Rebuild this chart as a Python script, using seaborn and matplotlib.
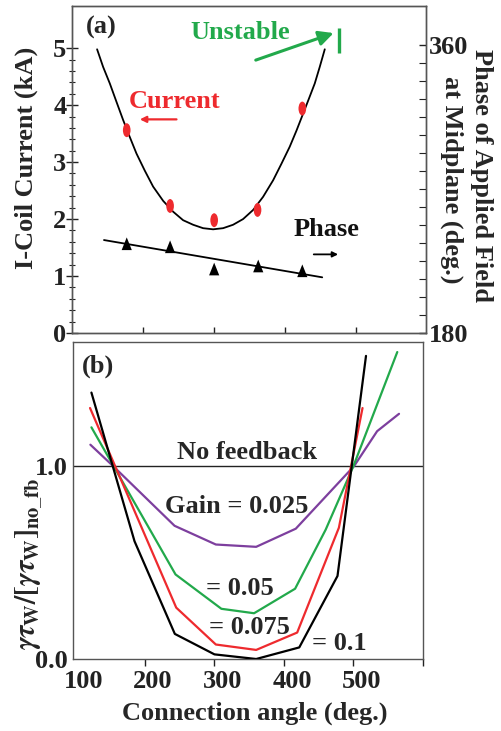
import numpy as np
import pandas as pd
import matplotlib
matplotlib.use("Agg")
import matplotlib.pyplot as plt
import matplotlib.transforms as mtransforms
from matplotlib.path import Path
from matplotlib.markers import MarkerStyle
from matplotlib.ticker import FixedLocator
import seaborn as sns

# ---------------- data: panel (a) ----------------
fit_angle = [135.3, 143.8, 153.2, 162.5, 171.9, 181.3, 190.7, 202.4, 214.1, 228.2,
             242.2, 256.3, 270.4, 284.4, 298.5, 312.6, 326.6, 340.7, 354.8, 368.8,
             382.9, 394.6, 406.3, 415.7, 425.1, 433.5, 441.5, 448.5, 455.6]
fit_current = [4.98, 4.67, 4.38, 4.06, 3.74, 3.44, 3.15, 2.85, 2.57, 2.32,
               2.13, 1.98, 1.90, 1.84, 1.82, 1.84, 1.90, 2.00, 2.16, 2.39,
               2.68, 2.97, 3.27, 3.55, 3.85, 4.12, 4.38, 4.67, 4.98]
meas_angle = [177, 238, 300, 361, 424]
meas_current = [3.56, 2.23, 1.98, 2.16, 3.94]
phase_angle = [177, 238, 300, 362, 424]
phase_deg = [235.8, 233.9, 220.0, 221.9, 218.9]
phase_fit_angle = [145, 452]
phase_fit_deg = [238.1, 214.8]

# ---------------- data: panel (b) ----------------
gain_levels = ["0.025", "0.05", "0.075", "0.1"]
angle_g025 = [121.5, 154, 242.6, 302, 360, 417, 501, 534, 565.5]
ratio_g025 = [1.11, 1.0, 0.69, 0.593, 0.581, 0.675, 1.0, 1.18, 1.27]
angle_g050 = [123, 244, 310, 357, 416, 460, 500, 563]
ratio_g050 = [1.20, 0.438, 0.26, 0.237, 0.364, 0.67, 1.0, 1.59]
angle_g075 = [121, 245, 302, 360, 419, 479, 513]
ratio_g075 = [1.30, 0.266, 0.075, 0.047, 0.137, 0.68, 1.30]
angle_g100 = [123, 185, 243, 300, 360, 422, 477, 518]
ratio_g100 = [1.38, 0.61, 0.13, 0.024, 0.0, 0.06, 0.43, 1.57]

xticks_b = [100, 200, 300, 400, 500, 600]
xticklabels_b = ["100", "200", "300", "400", "500", ""]

RED = "#ee2a2e"
GREEN = "#22a94b"
PURPLE = "#7d3f9e"
SPINE = "#555555"

sns.set_theme(style="ticks")
plt.rcParams["font.family"] = ["Liberation Serif", "DejaVu Serif"]
plt.rcParams["font.weight"] = "bold"
plt.rcParams["axes.labelweight"] = "bold"
plt.rcParams["mathtext.fontset"] = "stix"
plt.rcParams["axes.edgecolor"] = SPINE
plt.rcParams["axes.linewidth"] = 1.0
plt.rcParams["xtick.color"] = "#222222"
plt.rcParams["ytick.color"] = "#222222"

FS = 19

fig = plt.figure(figsize=(5.02, 7.31), dpi=100)
W, H = 502, 731
ax1 = fig.add_axes([72 / W, 1 - 333 / H, (426 - 72) / W, (333 - 6) / H])
ax2 = fig.add_axes([73 / W, 1 - 659 / H, (423 - 73) / W, (659 - 342) / H])

# ---------------- panel (a) ----------------
df_fit = pd.DataFrame({"angle": fit_angle, "current": fit_current})
sns.lineplot(data=df_fit, x="angle", y="current", color="black", lw=1.3,
             sort=False, estimator=None, ax=ax1)

circ = Path.unit_circle()
ellipse = MarkerStyle(Path(circ.vertices * np.array([0.55, 1.0]), circ.codes))
sns.scatterplot(x=meas_angle, y=meas_current, marker=ellipse, s=100,
                color=RED, edgecolor="none", ax=ax1, zorder=5)

ax1.set_xlim(100, 598)
ax1.set_ylim(0, 5.74)
ax1.yaxis.set_major_locator(FixedLocator([0, 1, 2, 3, 4, 5]))
ax1.yaxis.set_minor_locator(FixedLocator(np.arange(0, 5.01, 0.2)))
ax1.xaxis.set_major_locator(FixedLocator([200, 300, 400, 500]))
ax1.tick_params(axis="y", which="major", direction="inout", length=8, width=1,
                labelsize=FS, pad=0)
ax1.tick_params(axis="y", which="minor", direction="inout", length=5, width=0.8)
ax1.tick_params(axis="x", which="major", direction="in", length=4, width=1,
                labelbottom=False)
ax1.set_xlabel("")
ax1.set_ylabel("I-Coil Current (kA)", fontsize=FS)
ax1.yaxis.set_label_coords(-0.096, 0.537)

ax1r = ax1.twinx()
ax1r.set_position(ax1.get_position())
tri = MarkerStyle(Path([(0, 1), (-0.8, -1), (0.8, -1), (0, 1)],
                       [Path.MOVETO, Path.LINETO, Path.LINETO, Path.CLOSEPOLY]))
df_pf = pd.DataFrame({"angle": phase_fit_angle, "phase": phase_fit_deg})
sns.lineplot(data=df_pf, x="angle", y="phase", color="black", lw=1.3,
             sort=False, estimator=None, ax=ax1r)
sns.scatterplot(x=phase_angle, y=phase_deg, marker=tri, s=84, color="black",
                edgecolor="none", ax=ax1r, zorder=5)
ax1r.set_ylim(180, 384.4)
ax1r.yaxis.set_major_locator(FixedLocator([180, 360]))
ax1r.yaxis.set_minor_locator(FixedLocator(np.arange(180, 360.1, 11.25)))
ax1r.tick_params(axis="y", which="major", direction="in", length=5, width=1,
                 labelsize=FS, pad=2)
ax1r.tick_params(axis="y", which="minor", direction="in", length=5, width=0.8)
ax1r.set_xlabel("")
ax1r.set_ylabel("Phase of Applied Field", fontsize=FS, rotation=270)
ax1r.yaxis.label.set_verticalalignment("bottom")
ax1r.yaxis.set_label_coords((470 - 72) / 354, 0.483)
ax1r.text((452 - 72) / 354, 0.468, "at Midplane (deg.)", transform=ax1r.transAxes,
          fontsize=FS, rotation=270, ha="center", va="center")
for sp in ax1r.spines.values():
    sp.set_color(SPINE)

ax1.text(140.5, 5.37, "(a)", fontsize=FS, ha="center", va="center")
ax1.text(336, 5.28, "Unstable", fontsize=FS, color=GREEN, ha="center", va="center")
ax1.annotate("", xy=(468, 5.265), xytext=(358.5, 4.79),
             arrowprops=dict(arrowstyle="-|>", color=GREEN, lw=2.2,
                             mutation_scale=22, shrinkA=0, shrinkB=0))
ax1.plot([475.7, 475.7], [4.91, 5.35], color=GREEN, lw=2.4, solid_capstyle="butt")
ax1.text(244.7, 4.06, "Current", fontsize=FS, color=RED, ha="center", va="center")
ax1.annotate("", xy=(195.4, 3.75), xytext=(247, 3.75),
             arrowprops=dict(arrowstyle="-|>", color=RED, lw=1.6,
                             mutation_scale=9, shrinkA=0, shrinkB=0))
ax1.text(458, 1.81, "Phase", fontsize=FS, color="#111111", ha="center", va="center")
ax1.annotate("", xy=(474.3, 1.38), xytext=(440.1, 1.38),
             arrowprops=dict(arrowstyle="-|>", color="black", lw=1.3,
                             mutation_scale=8, shrinkA=0, shrinkB=0))

# ---------------- panel (b) ----------------
df_b = pd.concat([
    pd.DataFrame({"angle": angle_g025, "ratio": ratio_g025, "gain": gain_levels[0]}),
    pd.DataFrame({"angle": angle_g050, "ratio": ratio_g050, "gain": gain_levels[1]}),
    pd.DataFrame({"angle": angle_g075, "ratio": ratio_g075, "gain": gain_levels[2]}),
    pd.DataFrame({"angle": angle_g100, "ratio": ratio_g100, "gain": gain_levels[3]}),
], ignore_index=True)
palette = {"0.025": PURPLE, "0.05": GREEN, "0.075": RED, "0.1": "black"}
ax2.axhline(1.0, color="#222222", lw=1.0, zorder=1)
sns.lineplot(data=df_b, x="angle", y="ratio", hue="gain", hue_order=gain_levels,
             palette=palette, sort=False, estimator=None, lw=1.6, legend=False,
             ax=ax2, zorder=3)

ax2.set_xlim(96.5, 600)
ax2.set_ylim(0, 1.642)
ax2.xaxis.set_major_locator(FixedLocator(xticks_b))
ax2.set_xticklabels(xticklabels_b)
ax2.xaxis.get_major_ticks()[0].tick1line.set_visible(False)
ax2.yaxis.set_major_locator(FixedLocator([0.0, 1.0]))
ax2.set_yticklabels(["0.0", "1.0"])
ax2.tick_params(axis="x", direction="out", length=5, width=1, labelsize=FS, pad=3)
ax2.tick_params(axis="y", length=0, labelsize=FS, pad=4)
offset = mtransforms.ScaledTranslation(8 / 100, 0, fig.dpi_scale_trans)
for lab in ax2.get_xticklabels():
    lab.set_transform(lab.get_transform() + offset)

ax2.set_xlabel("Connection angle (deg.)", fontsize=FS)
ax2.xaxis.set_label_coords(0.52, -0.135)
ax2.set_ylabel(r"$\gamma\tau_{\mathbf{W}}/[\gamma\tau_{\mathbf{W}}]_{\mathbf{no\_fb}}$",
               fontsize=21, fontweight="normal")
ax2.yaxis.set_label_coords(-0.08, 0.30)

ax2.text(132, 1.518, "(b)", fontsize=FS, ha="center", va="center")
ax2.text(347.3, 1.07, "No feedback", fontsize=FS, ha="center", va="center")
ax2.text(331.6, 0.79, "Gain = 0.025", fontsize=FS, ha="center", va="center")
ax2.text(337, 0.366, "= 0.05", fontsize=FS, ha="center", va="center")
ax2.text(350, 0.162, "= 0.075", fontsize=FS, ha="center", va="center")
ax2.text(479.5, 0.081, "= 0.1", fontsize=FS, ha="center", va="center")

fig.savefig("out.png", dpi=100)
